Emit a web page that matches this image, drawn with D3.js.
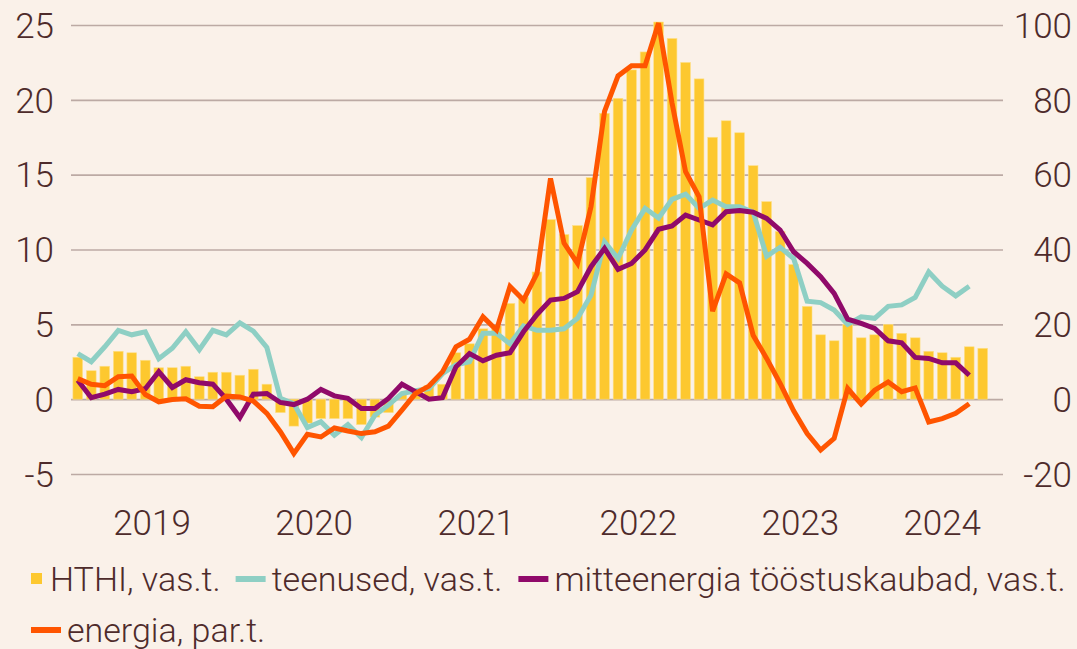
<!DOCTYPE html>
<html>
<head>
<meta charset="utf-8">
<script src="https://cdn.jsdelivr.net/npm/d3@7"></script>
<style>
  body { margin: 0; background: #faf1e9; }
  svg { display: block; font-family: Roboto, "Noto Sans", sans-serif; font-weight: 300; }
</style>
</head>
<body>
<div id="chart"></div>
<script>
// chart size
var svgWidth = 1077;
var svgHeight = 649;

// months Jan 2019 .. Sep 2024 (last one is empty)
var months = [];
for (var y = 2019; y <= 2024; y++) {
  for (var m = 1; m <= 12; m++) {
    if (y === 2024 && m > 9) break;
    months.push(y + "-" + (m < 10 ? "0" + m : m));
  }
}
var years = ["2019", "2020", "2021", "2022", "2023", "2024"];

// HTHI, annual change %, left axis
var hthi = [
  2.8, 1.9, 2.2, 3.2, 3.1, 2.6, 2.1, 2.1, 2.2, 1.5, 1.8, 1.8,
  1.6, 2.0, 1.0, -0.9, -1.8, -1.6, -1.3, -1.3, -1.3, -1.7, -1.2, -0.9,
  0.3, 0.3, 0.9, 1.0, 3.1, 3.7, 4.7, 4.9, 6.4, 6.8, 8.5, 12.0,
  11.0, 11.6, 14.8, 19.1, 20.1, 22.0, 23.2, 25.2, 24.1, 22.5, 21.4, 17.5,
  18.6, 17.8, 15.6, 13.2, 11.2, 9.0, 6.2, 4.3, 3.9, 5.0, 4.1, 4.3,
  5.0, 4.4, 4.1, 3.2, 3.1, 2.8, 3.5, 3.4
];

// teenused, left axis
var teenused = [
  3.05, 2.5, 3.5, 4.6, 4.3, 4.5, 2.7, 3.4, 4.5, 3.3, 4.6, 4.3,
  5.1, 4.55, 3.45, 0.05, -0.3, -1.9, -1.5, -2.4, -1.7, -2.56, -1.07, -0.4,
  0.38, 0.56, 0.7, 1.7, 2.3, 2.5, 4.4, 4.4, 3.7, 4.9, 4.6, 4.6,
  4.7, 5.4, 6.95, 10.5, 9.4, 11.3, 12.75, 12.1, 13.35, 13.7, 12.75, 13.3,
  12.85, 12.85, 12.5, 9.55, 10.15, 9.4, 6.55, 6.45, 5.95, 5.0, 5.5, 5.4,
  6.2, 6.3, 6.8, 8.5, 7.55, 6.9, 7.55
];

// mitteenergia tööstuskaubad, left axis
var toostus = [
  1.27, 0.1, 0.33, 0.65, 0.5, 0.7, 1.83, 0.78, 1.3, 1.1, 1.0, 0.0,
  -1.23, 0.33, 0.38, -0.22, -0.36, 0.0, 0.65, 0.22, 0.05, -0.62, -0.62, 0.05,
  1.0, 0.5, 0.0, 0.1, 2.16, 3.05, 2.56, 2.94, 3.1, 4.5, 5.66, 6.62,
  6.73, 7.18, 8.85, 10.08, 8.67, 9.07, 9.97, 11.35, 11.57, 12.3, 11.97, 11.64,
  12.53, 12.6, 12.49, 12.08, 11.3, 9.85, 9.07, 8.18, 7.07, 5.35, 5.06, 4.73,
  3.9, 3.77, 2.79, 2.72, 2.43, 2.43, 1.6
];

// energia, right axis
var energia = [
  5.5, 4.0, 3.6, 6.0, 6.2, 1.25, -0.7, -0.1, 0.1, -1.9, -2.05, 0.8,
  0.6, -0.5, -3.8, -8.7, -14.5, -9.4, -10.1, -7.7, -8.5, -9.2, -8.7, -7.2,
  -2.9, 1.5, 3.5, 7.3, 14.0, 16.0, 22.0, 18.5, 30.1, 26.5, 33.6, 59.0,
  41.7, 36.3, 51.5, 76.9, 86.4, 89.1, 89.1, 100.5, 79.1, 60.8, 54.1, 23.5,
  33.5, 31.1, 17.1, 10.9, 4.2, -3.1, -9.2, -13.6, -10.5, 2.85, -1.3, 2.4,
  4.6, 2.0, 3.0, -6.1, -5.2, -3.8, -1.2
];

var leftTicks = [-5, 0, 5, 10, 15, 20, 25];
var rightTicks = [-20, 0, 20, 40, 60, 80, 100];

var legendItems = [
  { name: "HTHI, vas.t.", color: "#fdc82f", type: "box" },
  { name: "teenused, vas.t.", color: "#8ecfc4", type: "line" },
  { name: "mitteenergia tööstuskaubad, vas.t.", color: "#900a6a", type: "line" },
  { name: "energia, par.t.", color: "#ff5500", type: "line" }
];

var textColor = "#4e2b2b";

var svg = d3.select("#chart")
  .append("svg")
  .attr("width", svgWidth)
  .attr("height", svgHeight);

svg.append("rect")
  .attr("width", svgWidth)
  .attr("height", svgHeight)
  .attr("fill", "#faf1e9");

// scales
var x = d3.scaleBand()
  .domain(months)
  .range([71, 1003])
  .paddingInner(0.28)
  .paddingOuter(0.14);

var yLeft = d3.scaleLinear().domain([-5, 25]).range([474, 25]);
var yRight = d3.scaleLinear().domain([-20, 100]).range([474, 25]);

function cx(i) { return x(months[i]) + x.bandwidth() / 2; }

// gridlines + left axis
var leftAxis = d3.axisLeft(yLeft)
  .tickValues(leftTicks)
  .tickFormat(d => String(d))
  .tickSize(-(1003 - 71))
  .tickPadding(17);

var gl = svg.append("g")
  .attr("transform", "translate(71,0)")
  .call(leftAxis);
gl.select(".domain").remove();
gl.selectAll(".tick line").attr("stroke", "#bcaaa4").attr("stroke-width", 1.6);
gl.selectAll(".tick text")
  .attr("fill", textColor)
  .attr("font-size", 35)
  .attr("font-family", "Roboto, sans-serif")
  .attr("font-weight", 300)
  .attr("dy", "0.35em");

// right axis
var rightAxis = d3.axisRight(yRight)
  .tickValues(rightTicks)
  .tickFormat(d => String(d))
  .tickSize(0)
  .tickPadding(0);
var gr = svg.append("g")
  .attr("transform", "translate(1072,0)")
  .call(rightAxis);
gr.select(".domain").remove();
gr.selectAll(".tick text")
  .attr("fill", textColor)
  .attr("font-size", 35)
  .attr("font-family", "Roboto, sans-serif")
  .attr("font-weight", 300)
  .attr("text-anchor", "end")
  .attr("dy", "0.35em");

// bars
svg.append("g")
  .selectAll("rect")
  .data(hthi)
  .enter()
  .append("rect")
  .attr("x", (d, i) => x(months[i]))
  .attr("width", x.bandwidth())
  .attr("y", d => yLeft(Math.max(0, d)))
  .attr("height", d => Math.abs(yLeft(d) - yLeft(0)))
  .attr("fill", "#fdc82f")
  .attr("stroke", "#fde08a")
  .attr("stroke-width", 0.6);

// lines
function drawLine(values, scale, color) {
  var line = d3.line()
    .x((d, i) => cx(i))
    .y(d => scale(d));
  svg.append("path")
    .datum(values)
    .attr("d", line)
    .attr("fill", "none")
    .attr("stroke", color)
    .attr("stroke-width", 5);
}
drawLine(teenused, yLeft, "#8ecfc4");
drawLine(toostus, yLeft, "#900a6a");
drawLine(energia, yRight, "#ff5500");

// year labels, centred on each year's months
years.forEach(function(yr) {
  var idx = months.map((m, i) => m.slice(0, 4) === yr ? i : -1).filter(i => i >= 0);
  var mid = (cx(idx[0]) + cx(idx[idx.length - 1])) / 2;
  svg.append("text")
    .attr("x", mid)
    .attr("y", 535)
    .attr("text-anchor", "middle")
    .attr("fill", textColor)
    .attr("font-size", 35)
    .text(yr);
});

// legend
var lx = 31, ly = 591, rowH = 51;
legendItems.forEach(function(item) {
  var g = svg.append("g");
  var t = g.append("text")
    .attr("fill", textColor)
    .attr("font-size", 34)
    .text(item.name);
  var markW = item.type === "box" ? 12 : 30;
  var w = markW + 6 + t.node().getComputedTextLength();
  if (lx + w > 1070) { lx = 31; ly += rowH; }
  if (item.type === "box") {
    g.append("rect").attr("x", lx).attr("y", ly - 18).attr("width", 11).attr("height", 11).attr("fill", item.color);
  } else {
    g.append("rect").attr("x", lx).attr("y", ly - 15).attr("width", 30).attr("height", 6).attr("fill", item.color);
  }
  t.attr("x", lx + markW + (item.type === "box" ? 7 : 6)).attr("y", ly);
  lx += w + 16;
});
</script>
</body>
</html>
